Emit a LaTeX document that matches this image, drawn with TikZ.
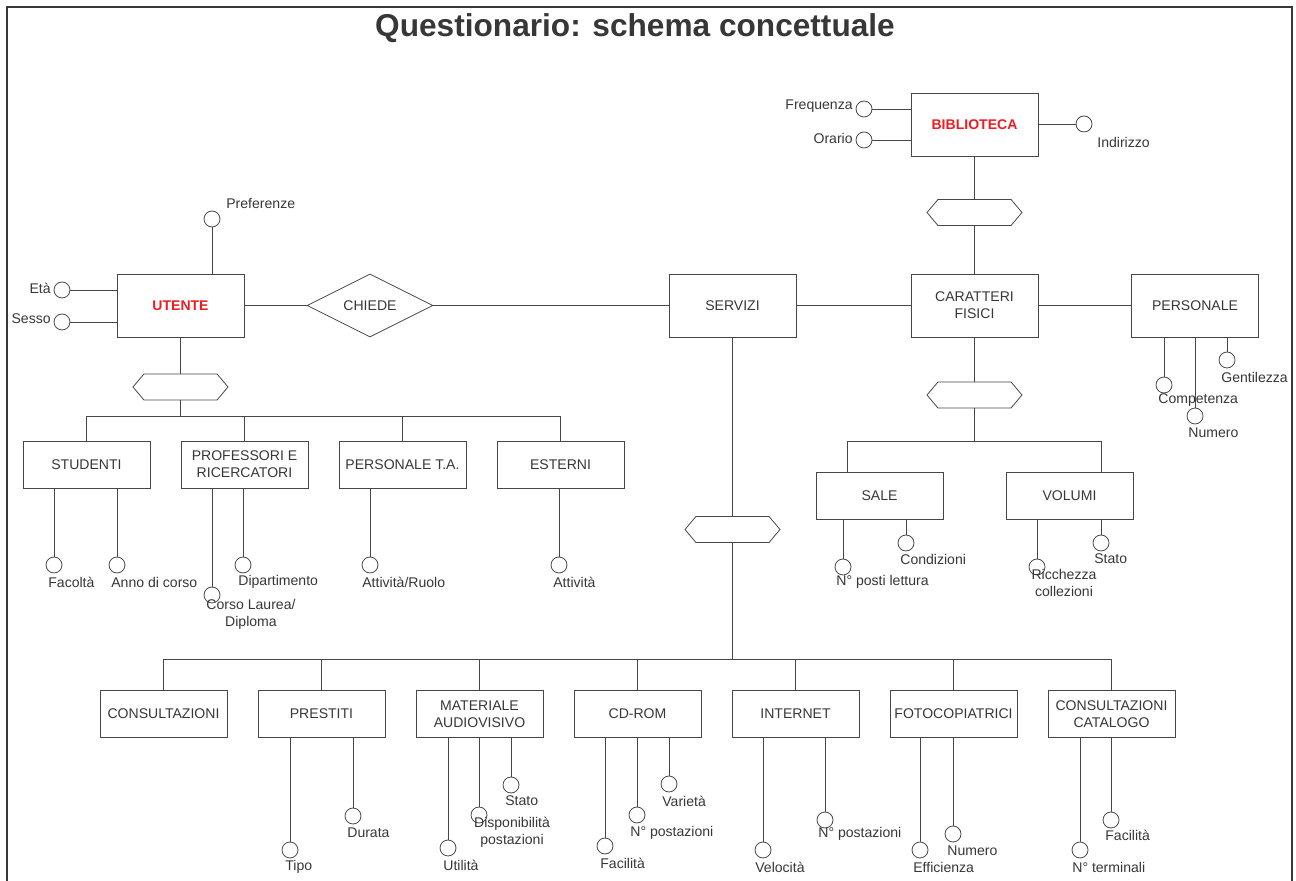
\documentclass[tikz,border=0pt]{standalone}
\usepackage{fontspec}
\setmainfont{Liberation Sans}
\usepackage{tikz}
\usetikzlibrary{shapes.geometric,shapes.symbols,calc}
\definecolor{ink}{RGB}{55,55,55}
\definecolor{wire}{RGB}{70,70,70}
\definecolor{entred}{RGB}{236,28,36}

\begin{document}
\begin{tikzpicture}[x=0.02cm,y=-0.02cm]
\tikzset{entity/.style = {shape=rectangle,draw=wire,line width=0.45pt,minimum width=2.54cm,minimum height=1.26cm,inner sep=0pt,text=ink,align=center,font=\fontsize{8}{9.6}\selectfont}}
\tikzset{subent/.style = {entity,minimum height=0.94cm}}
\tikzset{rel/.style = {shape=diamond,draw=wire,line width=0.45pt,aspect=2,minimum width=2.52cm,minimum height=1.26cm,inner sep=0pt,text=ink,font=\fontsize{8}{9.6}\selectfont}}
\tikzset{isa/.style = {shape=signal,signal to=east and west,signal pointer angle=100,draw=wire,line width=0.45pt,minimum width=1.9cm,minimum height=0.52cm,inner sep=0pt}}
\tikzset{attr/.style = {shape=circle,draw=wire,line width=0.45pt,minimum size=0.32cm,inner sep=0pt}}
\tikzset{lbl/.style = {inner sep=0pt,text=ink,align=center,font=\fontsize{8}{9.6}\selectfont}}
\tikzset{link/.style = {draw=wire,line width=0.45pt}}
\useasboundingbox (0,0) rectangle (1296,881);
\draw[ink,line width=1.1pt] (7,881) -- (7,7) -- (1292,7) -- (1292,881);
\node[text=ink,font=\bfseries\fontsize{18}{20}\selectfont] (title) at (635,28) {Questionario: schema concettuale};
% entities
\node[entity] (biblioteca) at (974.5,124.5) {\textcolor{entred}{\textbf{BIBLIOTECA}}};
\node[entity] (utente) at (180.5,305.5) {\textcolor{entred}{\textbf{UTENTE}}};
\node[rel] (chiede) at (370,305.5) {CHIEDE};
\node[entity] (servizi) at (732.5,305.5) {SERVIZI};
\node[entity] (caratteri) at (974.5,305.5) {CARATTERI\\FISICI};
\node[entity] (personale) at (1195,305.5) {PERSONALE};
% generalizations
\node[isa] (isabib) at (974.5,212.5) {};
\node[isa] (isaut) at (180.5,387) {};
\node[isa] (isacar) at (974.5,395) {};
\node[isa] (isaserv) at (732.5,529.5) {};
\coordinate (ubar) at (0,416);
\coordinate (cbar) at (0,441);
\coordinate (sbar) at (0,659);
% sub-entities
\node[subent] (studenti) at (86.5,464.5) {STUDENTI};
\node[subent] (professori) at (244.5,464.5) {PROFESSORI E\\RICERCATORI};
\node[subent] (personaleta) at (402.5,464.5) {PERSONALE T.A.};
\node[subent] (esterni) at (560.5,464.5) {ESTERNI};
\node[subent] (sale) at (879.5,496) {SALE};
\node[subent] (volumi) at (1069.5,496) {VOLUMI};
\node[subent] (consult) at (163.5,714) {CONSULTAZIONI};
\node[subent] (prestiti) at (321.5,714) {PRESTITI};
\node[subent] (materiale) at (479.5,714) {MATERIALE\\AUDIOVISIVO};
\node[subent] (cdrom) at (637.5,714) {CD-ROM};
\node[subent] (internet) at (795.5,714) {INTERNET};
\node[subent] (fotocop) at (953.5,714) {FOTOCOPIATRICI};
\node[subent] (catalogo) at (1111.5,714) {CONSULTAZIONI\\CATALOGO};
% attributes
\node[attr] (a-pref) at (212,219) {};
\node[attr] (a-eta) at (62,290) {};
\node[attr] (a-sesso) at (62,322) {};
\node[attr] (a-freq) at (864,109) {};
\node[attr] (a-orar) at (864,140) {};
\node[attr] (a-indir) at (1084,124) {};
\node[attr] (a-comp) at (1164,385) {};
\node[attr] (a-numpers) at (1195,416) {};
\node[attr] (a-gent) at (1227,360) {};
\node[attr] (a-facolta) at (54,565) {};
\node[attr] (a-anno) at (117,565) {};
\node[attr] (a-corso) at (212,595) {};
\node[attr] (a-dipart) at (243,565) {};
\node[attr] (a-ruolo) at (370,565) {};
\node[attr] (a-attiv) at (559,565) {};
\node[attr] (a-posti) at (843,567) {};
\node[attr] (a-cond) at (906,543) {};
\node[attr] (a-ricch) at (1037,567) {};
\node[attr] (a-statovol) at (1101,543) {};
\node[attr] (a-tipo) at (290,850) {};
\node[attr] (a-durata) at (353,816) {};
\node[attr] (a-utilita) at (448,848) {};
\node[attr] (a-dispon) at (479,815) {};
\node[attr] (a-statomat) at (511,785) {};
\node[attr] (a-faccd) at (605,846) {};
\node[attr] (a-postcd) at (637,815) {};
\node[attr] (a-varieta) at (669,784) {};
\node[attr] (a-veloc) at (763,850) {};
\node[attr] (a-postnet) at (825,820) {};
\node[attr] (a-effic) at (920,850) {};
\node[attr] (a-numfot) at (953,834) {};
\node[attr] (a-termin) at (1080,850) {};
\node[attr] (a-faccat) at (1111,820) {};
% attribute names
\node[lbl,anchor=west] (t-pref) at (226,203) {Preferenze};
\node[lbl,anchor=east] (t-eta) at (51,288) {Età};
\node[lbl,anchor=east] (t-sesso) at (51,319) {Sesso};
\node[lbl,anchor=east] (t-freq) at (853,106) {Frequenza};
\node[lbl,anchor=east] (t-orar) at (853,138) {Orario};
\node[lbl,anchor=west] (t-indir) at (1097,142) {Indirizzo};
\node[lbl,anchor=west] (t-comp) at (1158,400) {Competenza};
\node[lbl,anchor=west] (t-numpers) at (1188,433) {Numero};
\node[lbl,anchor=west] (t-gent) at (1221,377) {Gentilezza};
\node[lbl,anchor=west] (t-facolta) at (48,582) {Facoltà};
\node[lbl,anchor=west] (t-anno) at (111,582) {Anno di corso};
\node[lbl] (t-corso) at (251,614) {Corso Laurea/\\Diploma};
\node[lbl,anchor=west] (t-dipart) at (238,582) {Dipartimento};
\node[lbl,anchor=west] (t-ruolo) at (362,582) {Attività/Ruolo};
\node[lbl,anchor=west] (t-attiv) at (553,582) {Attività};
\node[lbl,anchor=west] (t-posti) at (836,582) {N° posti lettura};
\node[lbl,anchor=west] (t-cond) at (900,559) {Condizioni};
\node[lbl] (t-ricch) at (1064,583) {Ricchezza\\collezioni};
\node[lbl,anchor=west] (t-statovol) at (1094,559) {Stato};
\node[lbl,anchor=west] (t-tipo) at (285,867) {Tipo};
\node[lbl,anchor=west] (t-durata) at (347,833) {Durata};
\node[lbl,anchor=west] (t-utilita) at (443,865) {Utilità};
\node[lbl] (t-dispon) at (512,832.5) {Disponibilità\\postazioni};
\node[lbl,anchor=west] (t-statomat) at (505,801) {Stato};
\node[lbl,anchor=west] (t-faccd) at (600,863) {Facilità};
\node[lbl,anchor=west] (t-postcd) at (630,833) {N° postazioni};
\node[lbl,anchor=west] (t-varieta) at (662,801) {Varietà};
\node[lbl,anchor=west] (t-veloc) at (755,867) {Velocità};
\node[lbl,anchor=west] (t-postnet) at (818,834) {N° postazioni};
\node[lbl,anchor=west] (t-effic) at (913,867) {Efficienza};
\node[lbl,anchor=west] (t-numfot) at (947,851) {Numero};
\node[lbl,anchor=west] (t-termin) at (1072,867) {N° terminali};
\node[lbl,anchor=west] (t-faccat) at (1105,835) {Facilità};
% edges
\draw[link] (utente) -- (chiede) -- (servizi) -- (caratteri) -- (personale);
\draw[link] (biblioteca) -- (isabib) -- (caratteri);
\draw[link] (utente) -- (isaut);
\draw[link] (isaut) -- (isaut.south |- ubar);
\draw[link] (studenti.north) -- (studenti.north |- ubar) -- (esterni.north |- ubar) -- (esterni.north);
\draw[link] (professori.north) -- (professori.north |- ubar);
\draw[link] (personaleta.north) -- (personaleta.north |- ubar);
\draw[link] (caratteri) -- (isacar);
\draw[link] (isacar) -- (isacar.south |- cbar);
\coordinate (salein) at ($(sale.north west)!.25!(sale.north east)$);
\coordinate (volin) at ($(volumi.north west)!.75!(volumi.north east)$);
\draw[link] (salein) -- (salein |- cbar) -- (volin |- cbar) -- (volin);
\draw[link] (servizi) -- (isaserv);
\draw[link] (isaserv) -- (isaserv.south |- sbar);
\draw[link] (consult.north) -- (consult.north |- sbar) -- (catalogo.north |- sbar) -- (catalogo.north);
\draw[link] (prestiti.north) -- (prestiti.north |- sbar);
\draw[link] (materiale.north) -- (materiale.north |- sbar);
\draw[link] (cdrom.north) -- (cdrom.north |- sbar);
\draw[link] (internet.north) -- (internet.north |- sbar);
\draw[link] (fotocop.north) -- (fotocop.north |- sbar);
% attribute links
\draw[link] (a-pref) -- (a-pref |- utente.north);
\draw[link] (a-eta) -- (a-eta -| utente.west);
\draw[link] (a-sesso) -- (a-sesso -| utente.west);
\draw[link] (a-freq) -- (a-freq -| biblioteca.west);
\draw[link] (a-orar) -- (a-orar -| biblioteca.west);
\draw[link] (a-indir) -- (a-indir -| biblioteca.east);
\draw[link] (a-comp) -- (a-comp |- personale.south);
\draw[link] (a-numpers) -- (a-numpers |- personale.south);
\draw[link] (a-gent) -- (a-gent |- personale.south);
\draw[link] (a-facolta) -- (a-facolta |- studenti.south);
\draw[link] (a-anno) -- (a-anno |- studenti.south);
\draw[link] (a-corso) -- (a-corso |- professori.south);
\draw[link] (a-dipart) -- (a-dipart |- professori.south);
\draw[link] (a-ruolo) -- (a-ruolo |- personaleta.south);
\draw[link] (a-attiv) -- (a-attiv |- esterni.south);
\draw[link] (a-posti) -- (a-posti |- sale.south);
\draw[link] (a-cond) -- (a-cond |- sale.south);
\draw[link] (a-ricch) -- (a-ricch |- volumi.south);
\draw[link] (a-statovol) -- (a-statovol |- volumi.south);
\draw[link] (a-tipo) -- (a-tipo |- prestiti.south);
\draw[link] (a-durata) -- (a-durata |- prestiti.south);
\draw[link] (a-utilita) -- (a-utilita |- materiale.south);
\draw[link] (a-dispon) -- (a-dispon |- materiale.south);
\draw[link] (a-statomat) -- (a-statomat |- materiale.south);
\draw[link] (a-faccd) -- (a-faccd |- cdrom.south);
\draw[link] (a-postcd) -- (a-postcd |- cdrom.south);
\draw[link] (a-varieta) -- (a-varieta |- cdrom.south);
\draw[link] (a-veloc) -- (a-veloc |- internet.south);
\draw[link] (a-postnet) -- (a-postnet |- internet.south);
\draw[link] (a-effic) -- (a-effic |- fotocop.south);
\draw[link] (a-numfot) -- (a-numfot |- fotocop.south);
\draw[link] (a-termin) -- (a-termin |- catalogo.south);
\draw[link] (a-faccat) -- (a-faccat |- catalogo.south);
\end{tikzpicture}
\end{document}
